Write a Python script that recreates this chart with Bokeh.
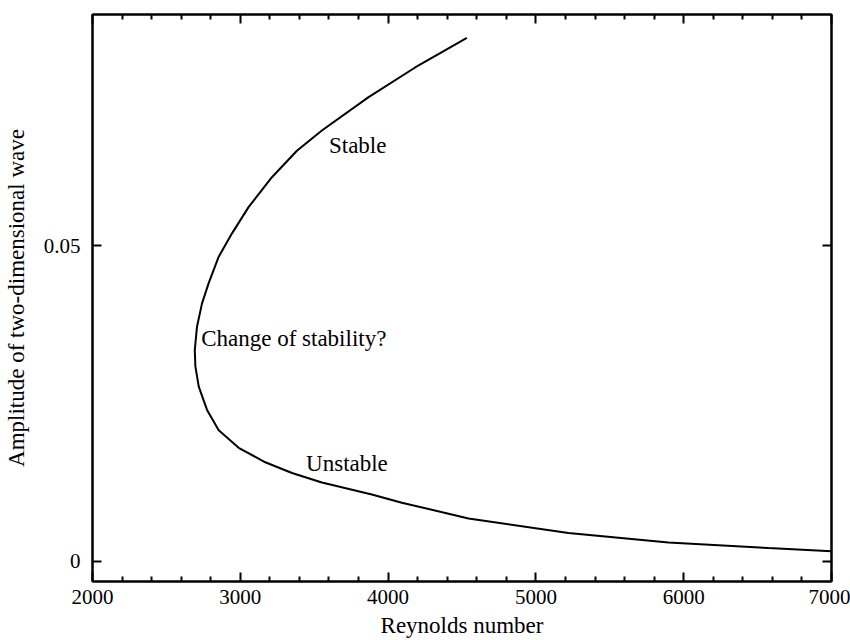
from bokeh.plotting import figure
from bokeh.models import (Range1d, FixedTicker, LinearAxis, Label)
from bokeh.embed import file_html
from bokeh.resources import INLINE

# ---- data ----
reynolds = [4533, 4183, 3868, 3552, 3383, 3214, 3057, 2944, 2854, 2786, 2741,
            2707, 2692, 2696, 2719, 2775, 2854, 2989, 3169, 3350, 3552, 3890,
            4093, 4544, 5220, 5897, 6573, 7000]
amplitude = [0.0830, 0.0783, 0.0736, 0.0683, 0.0651, 0.0609, 0.0562, 0.0520,
             0.0483, 0.0441, 0.0409, 0.0372, 0.0335, 0.0309, 0.0277, 0.0240,
             0.0208, 0.0180, 0.0157, 0.0140, 0.0125, 0.0106, 0.0093, 0.0068,
             0.0045, 0.0030, 0.0021, 0.0016]

x_major_ticks = [2000, 3000, 4000, 5000, 6000, 7000]
x_minor_ticks = [2200, 2400, 2600, 2800, 3200, 3400, 3600, 3800, 4200, 4400,
                 4600, 4800, 5200, 5400, 5600, 5800, 6200, 6400, 6600, 6800]
y_ticks = [0, 0.05]
y_tick_labels = ["0", "0.05"]

note_texts = ["Stable", "Change of stability?", "Unstable"]
note_re = [3600, 2735, 3445]
note_amp = [0.0660, 0.0353, 0.0155]

FONT = "Liberation Serif"

p = figure(width=850, height=640, output_backend="svg", toolbar_location=None,
           x_range=Range1d(2000, 7000), y_range=Range1d(-0.0032, 0.0867),
           min_border_left=92, min_border_right=19, min_border_top=14,
           min_border_bottom=58)
p.grid.visible = False
p.background_fill_color = "white"
p.border_fill_color = "white"
p.outline_line_color = "black"
p.outline_line_width = 2

p.line(reynolds, amplitude, line_color="black", line_width=2)

xt = FixedTicker(ticks=x_major_ticks, minor_ticks=x_minor_ticks)
yt = FixedTicker(ticks=y_ticks, minor_ticks=[])

def style(ax):
    ax.axis_line_color = "black"
    ax.axis_line_width = 2
    ax.major_tick_line_color = "black"
    ax.major_tick_line_width = 2
    ax.minor_tick_line_color = "black"
    ax.minor_tick_line_width = 2
    ax.major_tick_in = 9
    ax.major_tick_out = 0
    ax.minor_tick_in = 5
    ax.minor_tick_out = 0
    ax.major_label_text_font = FONT
    ax.major_label_text_font_size = "21px"
    ax.major_label_text_color = "black"
    ax.axis_label_text_font = FONT
    ax.axis_label_text_font_size = "23px"
    ax.axis_label_text_font_style = "normal"
    ax.axis_label_text_color = "black"

xa = p.xaxis[0]
xa.ticker = xt
style(xa)
xa.axis_label = "Reynolds number"
xa.major_label_standoff = 8
xa.axis_label_standoff = 6

ya = p.yaxis[0]
ya.ticker = yt
style(ya)
ya.major_label_overrides = {t: s for t, s in zip(y_ticks, y_tick_labels)}
ya.axis_label = "Amplitude of two-dimensional wave"
ya.major_label_standoff = 12
ya.axis_label_standoff = 12

top = LinearAxis(ticker=xt)
style(top)
top.major_label_overrides = {t: "" for t in x_major_ticks}
top.major_label_standoff = 0
p.add_layout(top, "above")

right = LinearAxis(ticker=yt)
style(right)
right.major_label_overrides = {t: "" for t in y_ticks}
right.major_label_standoff = 0
p.add_layout(right, "right")

for t, x, y in zip(note_texts, note_re, note_amp):
    p.add_layout(Label(x=x, y=y, text=t, text_font=FONT, text_font_size="23px",
                       text_color="black", text_align="left",
                       text_baseline="alphabetic"))

open("out.html", "w").write(file_html(p, INLINE))
